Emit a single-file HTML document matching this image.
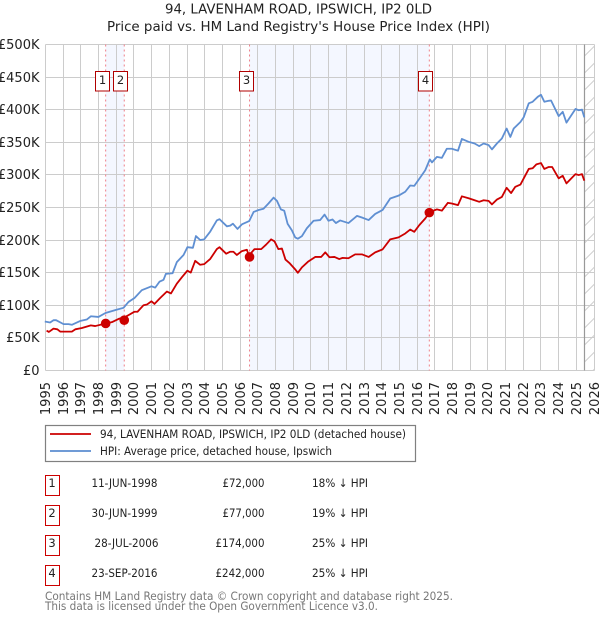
<!DOCTYPE html>
<html lang="en">
<head>
<meta charset="utf-8">
<title>94, Lavenham Road, Ipswich: price paid vs. HPI</title>
<style>
html,body{margin:0;padding:0;background:#fff;width:600px;height:620px;overflow:hidden}
svg{display:block}
text{font-family:"DejaVu Sans","Liberation Sans",sans-serif;fill:#222}
</style>
</head>
<body>
<svg id="chart" xmlns="http://www.w3.org/2000/svg" width="600" height="620" viewBox="0 0 600 620">
  <defs>
    <pattern id="hatch" width="12" height="17" patternUnits="userSpaceOnUse" patternTransform="translate(584.5 44)">
      <line x1="-1" y1="13" x2="12" y2="0" stroke="#cfcfcf" stroke-width="1"/>
      <line x1="-1" y1="30" x2="12" y2="17" stroke="#cfcfcf" stroke-width="1"/>
    </pattern>
  </defs>
  <text x="165" y="13.5" font-size="13" textLength="267" lengthAdjust="spacingAndGlyphs">94, LAVENHAM ROAD, IPSWICH, IP2 0LD</text>
  <text x="107" y="31" font-size="13" textLength="383" lengthAdjust="spacingAndGlyphs">Price paid vs. HM Land Registry's House Price Index (HPI)</text>
  <g id="plot"></g>

  <g>
    <rect x="45.5" y="425.5" width="370" height="36" fill="#fff" stroke="#808080" stroke-width="1.2"/>
    <line x1="50" y1="434" x2="91" y2="434" stroke="#cc0000" stroke-width="1.8"/>
    <text x="100" y="438" font-size="11.5" textLength="306" lengthAdjust="spacingAndGlyphs">94, LAVENHAM ROAD, IPSWICH, IP2 0LD (detached house)</text>
    <line x1="50" y1="451" x2="91" y2="451" stroke="#5b8dd0" stroke-width="1.8"/>
    <text x="100" y="455" font-size="11.5" textLength="232" lengthAdjust="spacingAndGlyphs">HPI: Average price, detached house, Ipswich</text>
  </g>

  <g font-size="11.5">
    <g>
      <rect x="45.5" y="475.5" width="14" height="20" fill="#fff" stroke="#cc0000"/>
      <text x="52" y="487" text-anchor="middle">1</text>
      <text x="91.5" y="487" textLength="66" lengthAdjust="spacingAndGlyphs">11-JUN-1998</text>
      <text x="222.5" y="487" textLength="42" lengthAdjust="spacingAndGlyphs">£72,000</text>
      <text x="312" y="487" textLength="56" lengthAdjust="spacingAndGlyphs">18% ↓ HPI</text>
    </g>
    <g>
      <rect x="45.5" y="505.5" width="14" height="20" fill="#fff" stroke="#cc0000"/>
      <text x="52" y="517" text-anchor="middle">2</text>
      <text x="91.5" y="517" textLength="66" lengthAdjust="spacingAndGlyphs">30-JUN-1999</text>
      <text x="222.5" y="517" textLength="42" lengthAdjust="spacingAndGlyphs">£77,000</text>
      <text x="312" y="517" textLength="56" lengthAdjust="spacingAndGlyphs">19% ↓ HPI</text>
    </g>
    <g>
      <rect x="45.5" y="535.5" width="14" height="20" fill="#fff" stroke="#cc0000"/>
      <text x="52" y="547" text-anchor="middle">3</text>
      <text x="94.5" y="547" textLength="64" lengthAdjust="spacingAndGlyphs">28-JUL-2006</text>
      <text x="215.5" y="547" textLength="49" lengthAdjust="spacingAndGlyphs">£174,000</text>
      <text x="312" y="547" textLength="56" lengthAdjust="spacingAndGlyphs">25% ↓ HPI</text>
    </g>
    <g>
      <rect x="45.5" y="565.5" width="14" height="20" fill="#fff" stroke="#cc0000"/>
      <text x="52" y="577" text-anchor="middle">4</text>
      <text x="91.5" y="577" textLength="66" lengthAdjust="spacingAndGlyphs">23-SEP-2016</text>
      <text x="215.5" y="577" textLength="49" lengthAdjust="spacingAndGlyphs">£242,000</text>
      <text x="312" y="577" textLength="56" lengthAdjust="spacingAndGlyphs">25% ↓ HPI</text>
    </g>
  </g>

  <text x="45" y="600" font-size="11.5" style="fill:#777" textLength="408" lengthAdjust="spacingAndGlyphs">Contains HM Land Registry data © Crown copyright and database right 2025.</text>
  <text x="45" y="610" font-size="11.5" style="fill:#777" textLength="333" lengthAdjust="spacingAndGlyphs">This data is licensed under the Open Government Licence v3.0.</text>
</svg>

<script>
const yearTicks = [1995,1996,1997,1998,1999,2000,2001,2002,2003,2004,2005,2006,2007,2008,2009,2010,2011,2012,2013,2014,2015,2016,2017,2018,2019,2020,2021,2022,2023,2024,2025,2026];
const valueTicks = [0,50,100,150,200,250,300,350,400,450,500];
const valueTickLabels = ['£0','£50K','£100K','£150K','£200K','£250K','£300K','£350K','£400K','£450K','£500K'];

const hpiYears = [1995.00,1995.30,1995.49,1995.64,1996.06,1996.34,1996.53,1997.02,1997.37,1997.60,1998.03,1998.43,1999.05,1999.45,1999.73,2000.07,2000.48,2001.03,2001.24,2001.48,2001.71,2001.84,2002.22,2002.46,2002.84,2003.06,2003.37,2003.54,2003.78,2004.01,2004.35,2004.72,2004.87,2005.29,2005.48,2005.63,2005.89,2006.14,2006.55,2006.80,2007.08,2007.36,2007.64,2007.93,2008.12,2008.34,2008.53,2008.72,2008.96,2009.15,2009.30,2009.53,2009.81,2010.19,2010.56,2010.81,2011.03,2011.26,2011.45,2011.69,2012.16,2012.64,2012.92,2013.30,2013.67,2014.09,2014.52,2014.99,2015.37,2015.65,2015.88,2016.22,2016.50,2016.76,2016.88,2017.16,2017.44,2017.72,2018.00,2018.35,2018.57,2018.95,2019.29,2019.55,2019.80,2020.08,2020.27,2020.55,2020.83,2021.10,2021.31,2021.50,2021.88,2022.06,2022.35,2022.57,2022.86,2023.04,2023.23,2023.48,2023.61,2024.04,2024.27,2024.48,2024.99,2025.17,2025.36,2025.49];
const hpiValues = [75,73.5,77,77,71,71,70,76,78,83,82,88,93,96,105,111,123,129,127,136,139,148,149,166,177,189,188,206,200,201,213,230,232,221,222,225,217,224,229,243,246,248,256,265,260,247,245,225,215,204,202,206,218,229.5,230.6,239,229.5,231.5,226,230,226,237,234.5,230.6,240,246,263.7,268,274,283.6,283,296,307,323.6,319,327.5,326,340,340,337,355,350.6,348,344,348,345.6,339,348,355.7,371,358,371,381,388,409.6,412,419.6,422.7,412,413.5,414,390,396.6,380,401,399,400,388];

const paidYears = [1995.10,1995.23,1995.49,1995.71,1995.87,1996.53,1996.72,1997.10,1997.60,1997.85,1998.43,1998.79,1999.17,1999.55,2000.07,2000.24,2000.58,2000.77,2001.03,2001.20,2001.52,2001.90,2002.13,2002.46,2002.75,2003.06,2003.25,2003.50,2003.78,2004.01,2004.35,2004.72,2004.87,2005.25,2005.48,2005.66,2005.85,2006.14,2006.42,2006.53,2006.85,2007.23,2007.51,2007.79,2007.98,2008.20,2008.40,2008.60,2008.85,2009.15,2009.30,2009.53,2009.87,2010.28,2010.62,2010.85,2011.09,2011.37,2011.64,2011.83,2012.16,2012.54,2012.92,2013.30,2013.67,2014.09,2014.52,2014.99,2015.37,2015.65,2015.88,2016.17,2016.50,2016.76,2017.16,2017.44,2017.78,2018.00,2018.35,2018.57,2018.95,2019.29,2019.55,2019.80,2020.08,2020.27,2020.55,2020.83,2021.10,2021.35,2021.59,2021.88,2022.35,2022.57,2022.78,2023.04,2023.23,2023.48,2023.67,2024.04,2024.27,2024.48,2024.99,2025.17,2025.36,2025.49];
const paidValues = [61,59,64,63,59.5,59.5,63,65,69,68,72,74,79,82,90,90,100,101,106,102,111,121,118,133,143,153,150,168,162,163,171,186,189,179,182,182,177,183,185,176,186,186,193,201,198,186,187,170,164,155,149.7,158,166.6,174,174,181,173.5,174,170.8,172.6,172,178,178,174,181,185.6,201,204,210,216,212.6,223,233,243,247,245,257,256,253.5,267,264,261,258.6,261,260,254.6,262,266,280,272,281.6,285,309,310,316,318,309,312,312,294.6,298.5,286.8,301,299.6,301,291];

const saleNumbers = ['1','2','3','4'];
const saleYears = [1998.44,1999.49,2006.57,2016.73];
const salePrices = [72,77,174,242];
const shadedFrom = [1998.44,2006.57];
const shadedTo = [1999.49,2016.73];
const dataEndYear = 2025.5;

const NS = 'http://www.w3.org/2000/svg';
const plot = document.getElementById('plot');
const xAxis = y => 44.8 + 17.695 * (y - 1995);
const yAxis = v => 370.4 - 0.652 * v;
const snapX = y => Math.round(xAxis(y) + 0.2) + 0.5;
const snapY = v => Math.round(yAxis(v) - 0.4) + 0.5;
const PLOT_TOP = 44.5, PLOT_BOTTOM = 370.5, PLOT_LEFT = 45.5, PLOT_RIGHT = 594.5;

function make(tag, attrs) {
  const el = document.createElementNS(NS, tag);
  for (const k in attrs) el.setAttribute(k, attrs[k]);
  plot.appendChild(el);
  return el;
}

shadedFrom.forEach((from, i) => {
  const band = make('rect', {x: xAxis(from), y: PLOT_TOP, width: xAxis(shadedTo[i]) - xAxis(from), height: PLOT_BOTTOM - PLOT_TOP, fill: '#f4f7ff'});
  
  
});

const hatch = make('rect', {x: xAxis(dataEndYear), y: PLOT_TOP, width: PLOT_RIGHT - xAxis(dataEndYear), height: PLOT_BOTTOM - PLOT_TOP, fill: 'url(#hatch)'});



valueTicks.forEach((v, i) => {
  const line = make('line', {x1: PLOT_LEFT, x2: PLOT_RIGHT, y1: snapY(v), y2: snapY(v), stroke: '#cccccc', 'stroke-width': 1});
  
  
  const label = make('text', {x: 39.5, y: snapY(v) + 4.5, 'text-anchor': 'end', 'font-size': 13});
  
  
  label.textContent = valueTickLabels[i];
});

yearTicks.forEach(yr => {
  const line = make('line', {x1: snapX(yr), x2: snapX(yr), y1: PLOT_TOP, y2: PLOT_BOTTOM, stroke: '#cccccc', 'stroke-width': 1});
  
  
  const label = make('text', {transform: 'translate(' + (snapX(yr) + 4.7) + ' 382) rotate(-90)', 'text-anchor': 'end', 'font-size': 13});
  
  
  label.textContent = String(yr);
});

const endLine = make('line', {x1: xAxis(dataEndYear), x2: xAxis(dataEndYear), y1: PLOT_TOP, y2: PLOT_BOTTOM, stroke: '#999999', 'stroke-width': 1.2});



saleYears.forEach(yr => {
  const line = make('line', {x1: xAxis(yr), x2: xAxis(yr), y1: PLOT_TOP, y2: PLOT_BOTTOM, stroke: '#ee7f88', 'stroke-width': 1, 'stroke-dasharray': '2 3'});
  
  
});

function toPoints(years, values) {
  return years.map((yr, i) => xAxis(yr).toFixed(2) + ',' + yAxis(values[i]).toFixed(2)).join(' ');
}

const hpiLine = make('polyline', {points: toPoints(hpiYears, hpiValues), fill: 'none', stroke: '#5f8fd2', 'stroke-width': 1.8, 'stroke-linejoin': 'round'});



const paidLine = make('polyline', {points: toPoints(paidYears, paidValues), fill: 'none', stroke: '#cc0000', 'stroke-width': 1.8, 'stroke-linejoin': 'round'});



saleYears.forEach((yr, i) => {
  const dot = make('circle', {cx: xAxis(yr), cy: yAxis(salePrices[i]), r: 4.8, fill: '#cc0000'});
  
  
  const box = make('rect', {x: Math.round(xAxis(yr)) - 10.5, y: 71.5, width: 14, height: 19.5, fill: '#fff', stroke: '#b00000', 'stroke-width': 1});
  
  
  const num = make('text', {x: Math.round(xAxis(yr)) - 3.5, y: 84, 'text-anchor': 'middle', 'font-size': 11.5});
  
  
  num.textContent = saleNumbers[i];
});
</script>
</body>
</html>
